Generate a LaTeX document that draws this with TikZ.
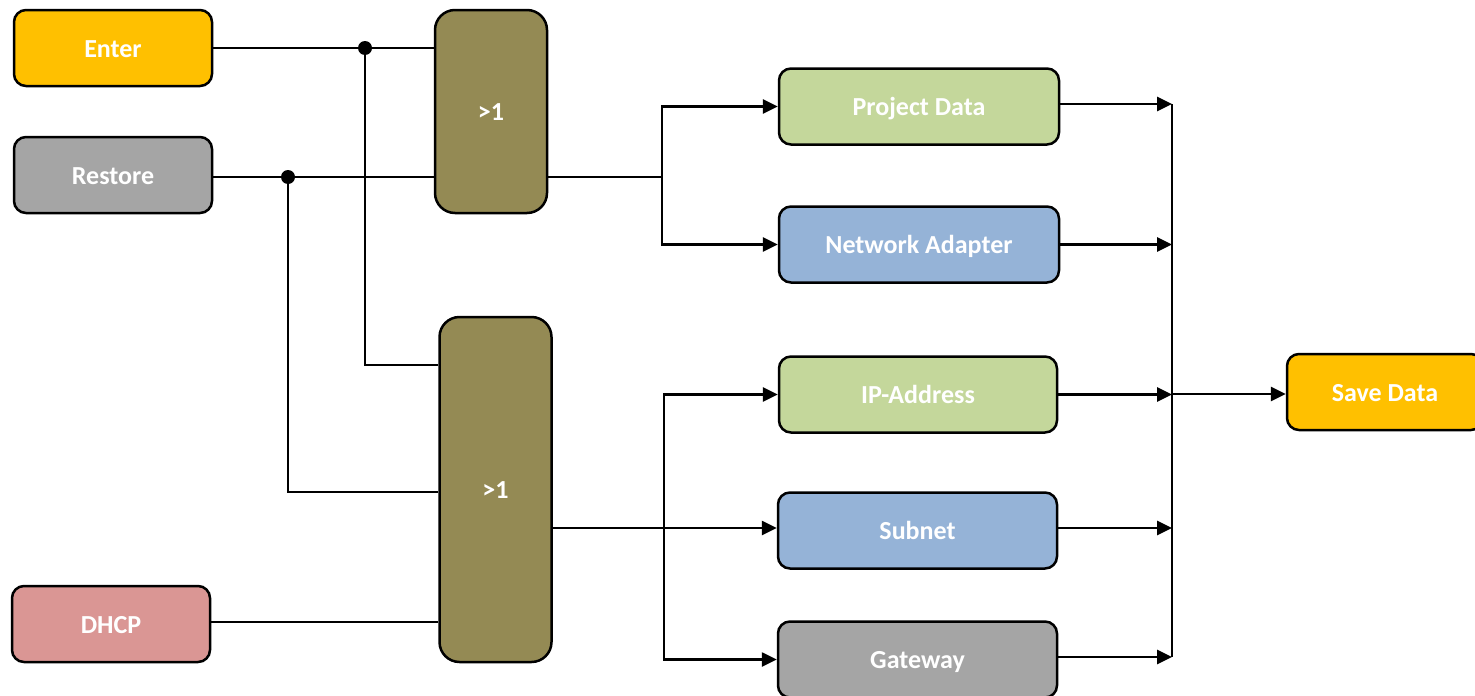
\documentclass[tikz,border=0pt]{standalone}
\usepackage{fontspec}
\setmainfont{Carlito}
\usetikzlibrary{arrows.meta,calc}
\definecolor{cyellow}{HTML}{FFC000}
\definecolor{cgrey}{HTML}{A5A5A5}
\definecolor{cpink}{HTML}{DA9694}
\definecolor{colive}{HTML}{948A54}
\definecolor{cgreen}{HTML}{C4D79B}
\definecolor{cblue}{HTML}{95B3D7}
\tikzset{
  box/.style={draw=black, line width=2.5pt, rounded corners=12pt, text=white,
    font=\fontsize{26}{30}\selectfont\bfseries, inner sep=0pt,
    text height=20.5pt, text depth=2.5pt},
  inbox/.style={box, minimum width=198pt, minimum height=76pt},
  outbox/.style={box, minimum width=280pt, minimum height=76pt},
  gate/.style={box, fill=colive, rounded corners=20pt, minimum width=112pt},
  wire/.style={line width=2.6pt},
  arr/.style={wire, -{Triangle[length=15pt,width=14pt]}},
  dot/.style={circle, fill=black, inner sep=0pt, minimum size=14pt},
}
\begin{document}
\begin{tikzpicture}[x=1pt,y=-1pt]
\useasboundingbox (0,0) rectangle (1475,696);

% inputs
\node[inbox, fill=cyellow] (enter)   at (113,48)  {Enter};
\node[inbox, fill=cgrey]   (restore) at (113,175) {Restore};
\node[inbox, fill=cpink]   (dhcp)    at (111,624) {DHCP};

% OR gates
\node[gate, minimum height=203pt] (g1) at (491,111.5) {>1};
\node[gate, minimum height=345pt] (g2) at (495.5,489.5) {>1};

% data blocks
\node[outbox, fill=cgreen] (proj) at (919,106.5) {Project Data};
\node[outbox, fill=cblue]  (net)  at (919,244.5) {Network Adapter};
\node[outbox, fill=cgreen, minimum width=278pt] (ip)   at (918,394.5) {IP-Address};
\node[outbox, fill=cblue, minimum width=279pt]  (sub)  at (917.5,530.5) {Subnet};
\node[outbox, fill=cgrey, minimum width=279pt]  (gw)   at (917.5,659.5) {Gateway};

% result
\node[box, fill=cyellow, minimum width=196pt, minimum height=76pt] (save) at (1385,392) {Save Data};

% junction points
\coordinate (j1) at (365,48);
\coordinate (j2) at (288,177);
\coordinate (s1) at (662,177);
\coordinate (s2) at (664,528);
\coordinate (bus) at (1172,394);

% inputs to gate 1
\draw[wire] (enter.east) -- (g1.west |- enter.east);
\draw[wire] (restore.east |- j2) -- (g1.west |- j2);
\node[dot] (d1) at (j1) {};
\node[dot] (d2) at (j2) {};

% branches to gate 2
\draw[wire] (j1) -- (j1 |- 0,365) -- (g2.west |- 0,365);
\draw[wire] (j2) -- (j2 |- 0,492) -- (g2.west |- 0,492);
\draw[wire] (dhcp.east |- 0,622) -- (g2.west |- 0,622);

% gate 1 outputs
\draw[wire] (g1.east |- s1) -- (s1);
\draw[arr] (s1) -- (s1 |- proj.west) -- (proj.west);
\draw[arr] (s1) -- (s1 |- net.west) -- (net.west);

% gate 2 outputs
\draw[arr] (g2.east |- s2) -- (sub.west |- s2);
\draw[arr] (s2) -- (s2 |- ip.west) -- (ip.west);
\draw[arr] (s2) -- (s2 |- gw.west) -- (gw.west);

% collecting bus
\draw[arr] (proj.east |- 0,104) -- (bus |- 0,104);
\draw[arr] (net.east)  -- (bus |- net.east);
\draw[arr] (ip.east)   -- (bus |- ip.east);
\draw[arr] (sub.east |- 0,528) -- (bus |- 0,528);
\draw[arr] (gw.east |- 0,657) -- (bus |- 0,657);
\draw[wire] (bus |- 0,104) -- (bus |- 0,657);
\draw[arr] (bus) -- (save.west |- bus);
\end{tikzpicture}
\end{document}
